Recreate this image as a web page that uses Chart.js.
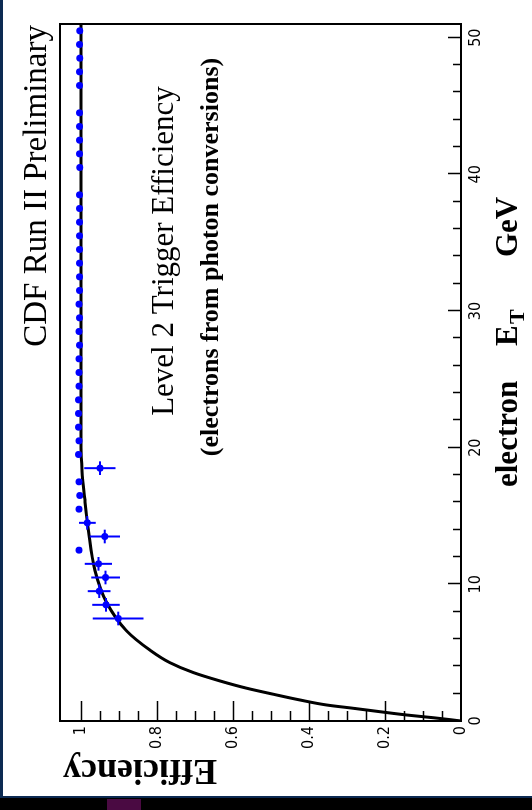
<!DOCTYPE html>
<html>
<head>
<meta charset="utf-8">
<script src="https://cdn.jsdelivr.net/npm/chart.js@4.4.1/dist/chart.umd.min.js"></script>
<style>
html, body { margin: 0; padding: 0; width: 532px; height: 810px; overflow: hidden; background: #000; }
#leftbar { position: absolute; left: 0; top: 0; width: 3px; height: 798px; background: #0c2a52; }
#bottombar { position: absolute; left: 0; top: 796px; width: 532px; height: 2px; background: #0c2a52; }
#tab { position: absolute; left: 107px; top: 799px; width: 34px; height: 11px; background: #4a0a42; }
/* the plot is drawn upright and turned a quarter to the left, like the scan */
#plot { position: absolute; left: 3px; top: 796px; width: 796px; height: 529px; background: #fff;
        transform: rotate(-90deg); transform-origin: 0 0; }
</style>
</head>
<body>
<div id="leftbar"></div>
<div id="bottombar"></div>
<div id="tab"></div>
<div id="plot"><canvas id="chart" width="796" height="529"></canvas></div>
<script>
// measured points (electron E_T bin centre, efficiency, efficiency error)
const pointEt = [7.5, 8.5, 9.5, 10.5, 11.5, 12.5, 13.5, 14.5, 15.5, 16.5, 17.5, 18.5,
	19.5, 20.5, 21.5, 22.5, 23.5, 24.5, 25.5, 26.5, 27.5, 28.5,
	29.5, 30.5, 31.5, 32.5, 33.5, 34.5, 35.5, 36.5, 37.5, 38.5,
	40.5, 41.5, 42.5, 43.5, 44.5,
	46.5, 47.5, 48.5, 49.5, 50.5];
const pointEff = [0.902, 0.934, 0.952, 0.935, 0.954, 1.005, 0.937, 0.983, 1.005, 1.003, 1.005, 0.950,
	1.006, 1.005, 1.006, 1.006, 1.006, 1.005, 1.005, 1.005, 1.004, 1.005,
	1.004, 1.005, 1.004, 1.004, 1.004, 1.004, 1.004, 1.004, 1.004, 1.004,
	1.003, 1.004, 1.004, 1.004, 1.004,
	1.004, 1.004, 1.003, 1.004, 1.003];
const pointEffErr = [0.067, 0.036, 0.030, 0.038, 0.036, 0, 0.040, 0.022, 0, 0, 0, 0.041,
	0, 0, 0, 0, 0, 0, 0, 0, 0, 0,
	0, 0, 0, 0, 0, 0, 0, 0, 0, 0,
	0, 0, 0, 0, 0,
	0, 0, 0, 0, 0];
const etHalfBin = 0.5;

// fitted turn-on curve
const curveEt = [0, 0.1, 0.24, 0.44, 0.68, 0.93, 1.17, 1.54, 1.96, 2.4, 2.93, 3.54, 4.27, 5.18,
	6.6, 8.7, 11, 13.9, 16.3, 18.3, 20, 51];
const curveEff = [0, 0.029, 0.073, 0.143, 0.213, 0.283, 0.353, 0.424, 0.494, 0.564, 0.634, 0.704, 0.766, 0.818,
	0.88, 0.933, 0.963, 0.98, 0.99, 0.997, 1.0, 1.0];

const titleText = 'CDF Run II Preliminary';
const yTitleText = 'Efficiency';
const noteLine1 = 'Level 2 Trigger Efficiency';
const noteLine2 = '(electrons from photon conversions)';

const SERIF = '"Liberation Serif", "Times New Roman", serif';
const NARROW = '"Liberation Sans Narrow", "DejaVu Sans Condensed", "Liberation Sans", sans-serif';

const frame = {
	id: 'frame',
	beforeDatasetsDraw(chart) {
		const {ctx, chartArea: a, scales: {x, y}} = chart;
		ctx.save();
		ctx.strokeStyle = '#000';
		ctx.lineWidth = 2;
		ctx.strokeRect(a.left, a.top, a.right - a.left, a.bottom - a.top);
		ctx.lineWidth = 1.5;
		ctx.beginPath();
		for (let k = 1; k <= 25; k++) {
			const px = Math.round(x.getPixelForValue(k * 2)) + 0.5;
			ctx.moveTo(px, a.bottom);
			ctx.lineTo(px, a.bottom - (k % 5 === 0 ? 13 : 8));
		}
		for (let k = 1; k <= 20; k++) {
			const py = Math.round(y.getPixelForValue(k * 0.05)) + 0.5;
			ctx.moveTo(a.left, py);
			ctx.lineTo(a.left + (k % 4 === 0 ? 20 : 10), py);
		}
		ctx.stroke();
		ctx.restore();
	}
};

const errorBars = {
	id: 'errorBars',
	afterDatasetsDraw(chart) {
		const {ctx, scales: {x, y}} = chart;
		ctx.save();
		ctx.strokeStyle = '#0000ff';
		ctx.lineWidth = 2;
		ctx.beginPath();
		pointEt.forEach((et, i) => {
			const err = pointEffErr[i];
			if (!err) return;
			const px = x.getPixelForValue(et);
			const py = y.getPixelForValue(pointEff[i]);
			ctx.moveTo(px, y.getPixelForValue(pointEff[i] - err));
			ctx.lineTo(px, y.getPixelForValue(pointEff[i] + err));
			ctx.moveTo(x.getPixelForValue(et - etHalfBin), py);
			ctx.lineTo(x.getPixelForValue(et + etHalfBin), py);
		});
		ctx.stroke();
		ctx.restore();
	}
};

const texts = {
	id: 'texts',
	afterDraw(chart) {
		const {ctx, chartArea: a} = chart;
		ctx.save();
		ctx.fillStyle = '#000';
		ctx.textBaseline = 'alphabetic';

		ctx.font = '33px ' + SERIF;
		ctx.textAlign = 'right';
		ctx.fillText(titleText, a.right - 1, a.top - 14);

		ctx.textAlign = 'center';
		ctx.font = '31px ' + SERIF;
		ctx.fillText(noteLine1, 545, 170);
		ctx.font = 'bold 26px ' + SERIF;
		ctx.fillText(noteLine2, 539, 215);

		// x title: electron E_T GeV
		ctx.textAlign = 'left';
		ctx.font = 'bold 31px ' + SERIF;
		ctx.fillText('electron', 309, 514);
		ctx.fillText('E', 450, 514);
		ctx.font = 'bold 22px ' + SERIF;
		ctx.fillText('T', 472, 521);
		ctx.font = 'bold 31px ' + SERIF;
		ctx.fillText('GeV', 539, 514);

		// y title, rotated and pushed to the top of the axis
		ctx.translate(36, a.top + 3);
		ctx.rotate(-Math.PI / 2);
		ctx.textAlign = 'right';
		ctx.font = 'bold 36px ' + SERIF;
		ctx.fillText(yTitleText, 0, 0);
		ctx.restore();
	}
};

new Chart(document.getElementById('chart'), {
	type: 'scatter',
	data: {
		datasets: [{
			label: 'data',
			data: pointEt.map((e, i) => ({x: e, y: pointEff[i]})),
			backgroundColor: '#0000ff',
			borderWidth: 0,
			pointRadius: 3.5,
			pointStyle: 'circle'
		}, {
			label: 'fit',
			type: 'line',
			data: curveEt.map((e, i) => ({x: e, y: curveEff[i]})),
			borderColor: '#000',
			borderWidth: 3,
			pointRadius: 0,
			showLine: true,
			fill: false,
			cubicInterpolationMode: 'monotone'
		}]
	},
	options: {
		responsive: false,
		animation: false,
		devicePixelRatio: 1,
		layout: {padding: {top: 57, right: 24, left: 0, bottom: 0}},
		plugins: {legend: {display: false}, tooltip: {enabled: false}},
		scales: {
			x: {
				type: 'linear', position: 'bottom', min: 0, max: 51,
				afterFit: s => { s.height = 71; },
				grid: {display: false, drawTicks: false},
				border: {display: false},
				ticks: {stepSize: 10, includeBounds: false, padding: 5, maxRotation: 0, autoSkip: false,
					color: '#000', font: {family: NARROW, size: 16}}
			},
			y: {
				type: 'linear', position: 'left', min: 0, max: 1.055,
				afterFit: s => { s.width = 75; },
				grid: {display: false, drawTicks: false},
				border: {display: false},
				ticks: {stepSize: 0.2, includeBounds: false, padding: 5, autoSkip: false,
					color: '#000', font: {family: NARROW, size: 16},
					callback: v => String(+v.toFixed(2))}
			}
		}
	},
	plugins: [frame, errorBars, texts]
});
</script>
</body>
</html>
